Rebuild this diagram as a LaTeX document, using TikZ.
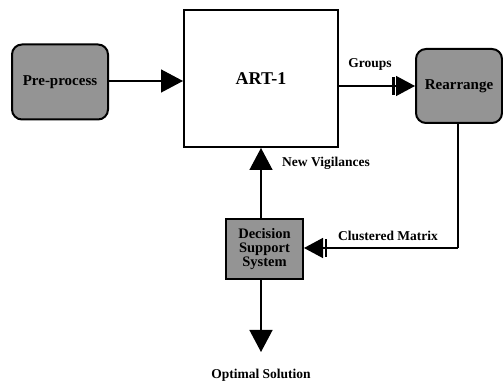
\documentclass[tikz,border=0pt]{standalone}
\usepackage{fontspec}
\setmainfont{Liberation Serif}
\usetikzlibrary{arrows.meta}
\tikzset{
  box/.style={draw=black, line width=2pt, fill=black!42, rounded corners=10pt, inner sep=0pt, font=\fontsize{15}{15}\selectfont\bfseries},
  bigbox/.style={draw=black, line width=2pt, fill=white, inner sep=0pt, font=\fontsize{18}{18}\selectfont\bfseries},
  sqbox/.style={draw=black, line width=2pt, fill=black!42, inner sep=0pt, align=center, font=\fontsize{14.5}{14}\selectfont\bfseries},
  lbl/.style={font=\fontsize{13.5}{13.5}\selectfont\bfseries, inner sep=0pt},
  conn/.style={line width=1.4pt, -{Triangle[length=22pt,width=23pt]}},
  barconn/.style={line width=1.4pt, -{Rectangle[length=2.5pt,width=18pt,sep=1.5pt] Triangle[length=19pt,width=20pt]}}
}
\begin{document}
\begin{tikzpicture}[x=1pt,y=1pt]
\useasboundingbox (0,0) rectangle (503,382);
\node[box, minimum width=96pt, minimum height=75pt] (pre) at (60,300) {Pre-process};
\node[bigbox, minimum width=154pt, minimum height=137pt] (art) at (261,303.5) {ART-1};
\node[box, minimum width=86pt, minimum height=74pt] (rea) at (459,296) {Rearrange};
\node[sqbox, minimum width=77pt, minimum height=60pt] (dss) at (264.5,133) {Decision\\Support\\System};
\coordinate (opt) at (261,30);
\coordinate (corner) at (458,134);
\node[lbl] (groups) at (370,318) {Groups};
\node[lbl] (vig) at (326,219) {New Vigilances};
\node[lbl] (clm) at (388,146) {Clustered Matrix};
\node[lbl] (sol) at (261,7) {Optimal Solution};
\draw[conn] (pre.east |- 0,301) -- (art.west |- 0,301);
\draw[barconn] (art.east |- rea.west) -- (rea.west);
\draw[line width=1.4pt] (rea.south -| corner) -- (corner);
\draw[barconn] (corner) -- (dss.east |- corner);
\draw[conn] (dss.north -| art.south) -- (art.south);
\draw[conn] (dss.south -| opt) -- (opt);
\end{tikzpicture}
\end{document}
